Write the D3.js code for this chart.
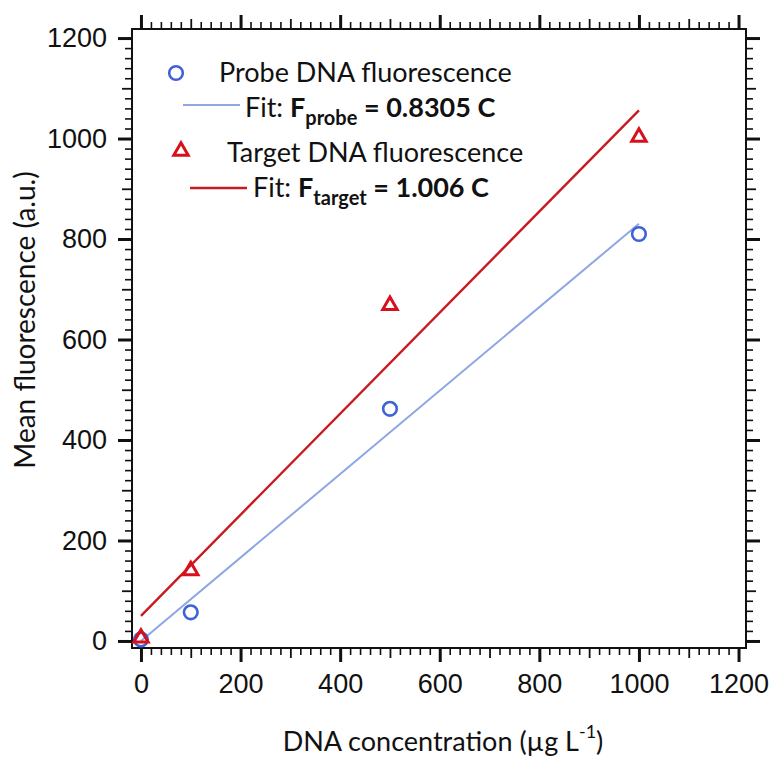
<!DOCTYPE html>
<html>
<head>
<meta charset="utf-8">
<script src="https://cdn.jsdelivr.net/npm/d3@7"></script>
<style>
  body { margin: 0; background: #fff; }
  svg { font-family: Lato, "Open Sans", sans-serif; }
  .tick text { fill: #111; }
</style>
</head>
<body>
<script>
(function() {
    var w = 774,
        h = 758;

    // data
    var concentrations = [0, 100, 500, 1000];
    var probeValues = [3, 57, 462, 810];
    var targetValues = [6, 140, 668, 1003];
    var fitSlopes = [0.8305, 1.006];
    var fitIntercepts = [0, 50];
    var fitRange = [0, 1000];
    var majorTicks = [0, 200, 400, 600, 800, 1000, 1200];
    var midTicks = [100, 300, 500, 700, 900, 1100];
    var minorTicks = d3.range(0, 1201, 20).filter(function(v) { return v % 100 !== 0; });

    var frame = {left: 132, right: 746, top: 29, bottom: 648};
    var probeColor = '#3f63d6',
        probeLine = '#8ea7e4',
        targetColor = '#d7101c',
        targetLine = '#c91a1f';

    var x = d3.scaleLinear().domain([-18, 1215]).range([frame.left, frame.right]);
    var y = d3.scaleLinear().domain([-14, 1218]).range([frame.bottom, frame.top]);

    var svg = d3.select('body')
        .append('svg')
        .attr('width', w)
        .attr('height', h);

    // ticks on all four sides, pointing outward
    function tickSet(axisFn, scale, values, size, width, pos, labels) {
        var g = svg.append('g')
            .attr('transform', pos)
            .call(axisFn(scale).tickValues(values).tickSize(size)
                .tickFormat(labels ? d3.format('d') : ''));
        g.select('.domain').remove();
        g.selectAll('.tick line').attr('stroke', '#111').attr('stroke-width', width);
        return g;
    }
    var sides = [
        [d3.axisBottom, x, 'translate(0,' + frame.bottom + ')'],
        [d3.axisTop, x, 'translate(0,' + frame.top + ')'],
        [d3.axisLeft, y, 'translate(' + frame.left + ',0)'],
        [d3.axisRight, y, 'translate(' + frame.right + ',0)']
    ];
    sides.forEach(function(s, i) {
        tickSet(s[0], s[1], minorTicks, 7, 1.6, s[2], false);
        tickSet(s[0], s[1], midTicks, 10, 1.8, s[2], false);
        var g = tickSet(s[0], s[1], majorTicks, 14, 3, s[2], i === 0 || i === 2);
        g.selectAll('.tick text').style('font-size', '27px');
        if (i === 0) g.selectAll('.tick text').attr('dy', '1.05em');
        if (i === 2) g.selectAll('.tick text').attr('x', -25);
    });

    svg.append('rect')
        .attr('x', frame.left)
        .attr('y', frame.top)
        .attr('width', frame.right - frame.left)
        .attr('height', frame.bottom - frame.top)
        .attr('fill', 'none')
        .attr('stroke', '#111')
        .attr('stroke-width', 2);

    // fit lines
    var fitColors = [probeLine, targetLine];
    fitSlopes.forEach(function(m, i) {
        svg.append('line')
            .attr('x1', x(fitRange[0]))
            .attr('x2', x(fitRange[1]))
            .attr('y1', y(fitIntercepts[i] + m * fitRange[0]))
            .attr('y2', y(fitIntercepts[i] + m * fitRange[1]))
            .attr('stroke', fitColors[i])
            .attr('stroke-width', i === 0 ? 2 : 2.4);
    });

    // data markers
    svg.append('g').selectAll('circle')
        .data(probeValues)
        .enter()
        .append('circle')
        .attr('cx', function(d, i) { return x(concentrations[i]); })
        .attr('cy', function(d) { return y(d); })
        .attr('r', 6.8)
        .attr('fill', 'none')
        .attr('stroke', probeColor)
        .attr('stroke-width', 2.6);

    var tri = d3.symbol().type(d3.symbolTriangle).size(90);
    svg.append('g').selectAll('path')
        .data(targetValues)
        .enter()
        .append('path')
        .attr('d', tri)
        .attr('transform', function(d, i) {
            return 'translate(' + x(concentrations[i]) + ',' + y(d) + ')';
        })
        .attr('fill', 'none')
        .attr('stroke', targetColor)
        .attr('stroke-width', 3)
        .attr('stroke-linejoin', 'miter');

    // legend
    var legend = svg.append('g').style('font-size', '27px').attr('fill', '#111');
    legend.append('circle')
        .attr('cx', 176).attr('cy', 73).attr('r', 6.8)
        .attr('fill', 'none').attr('stroke', probeColor).attr('stroke-width', 2.6);
    legend.append('text').attr('x', 219).attr('y', 82).text('Probe DNA fluorescence');
    legend.append('line')
        .attr('x1', 183).attr('x2', 240).attr('y1', 105).attr('y2', 105)
        .attr('stroke', probeLine).attr('stroke-width', 2);
    var fit1 = legend.append('text').attr('x', 245).attr('y', 117);
    fit1.append('tspan').text('Fit: ');
    fit1.append('tspan').attr('font-weight', 'bold').text('F');
    fit1.append('tspan').attr('font-weight', 'bold').attr('font-size', '20px').attr('dy', 8).text('probe');
    fit1.append('tspan').attr('font-weight', 'bold').attr('dy', -8).text(' = 0.8305 C');

    legend.append('path')
        .attr('d', tri)
        .attr('transform', 'translate(181,151)')
        .attr('fill', 'none').attr('stroke', targetColor).attr('stroke-width', 3);
    legend.append('text').attr('x', 227).attr('y', 162).text('Target DNA fluorescence');
    legend.append('line')
        .attr('x1', 190).attr('x2', 247).attr('y1', 188).attr('y2', 188)
        .attr('stroke', targetLine).attr('stroke-width', 2.4);
    var fit2 = legend.append('text').attr('x', 253).attr('y', 197);
    fit2.append('tspan').text('Fit: ');
    fit2.append('tspan').attr('font-weight', 'bold').text('F');
    fit2.append('tspan').attr('font-weight', 'bold').attr('font-size', '20px').attr('dy', 8).text('target');
    fit2.append('tspan').attr('font-weight', 'bold').attr('dy', -8).text(' = 1.006 C');

    // axis titles
    var xt = svg.append('text')
        .attr('x', 443).attr('y', 751)
        .attr('text-anchor', 'middle')
        .style('font-size', '27px')
        .attr('fill', '#111');
    xt.append('tspan').text('DNA concentration (\u00b5g L');
    xt.append('tspan').attr('font-size', '18px').attr('dy', -13).text('-1');
    xt.append('tspan').attr('dy', 13).text(')');

    svg.append('text')
        .attr('transform', 'translate(35,320) rotate(-90)')
        .attr('text-anchor', 'middle')
        .style('font-size', '28px')
        .attr('fill', '#111')
        .text('Mean fluorescence (a.u.)');
})();
</script>
</body>
</html>
